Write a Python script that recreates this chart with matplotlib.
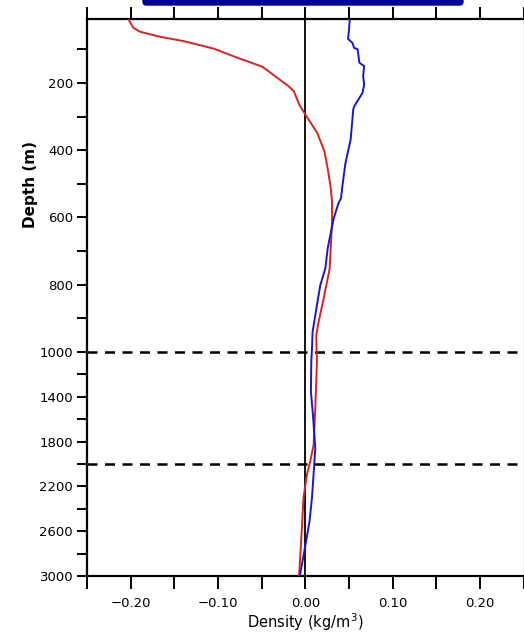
import numpy as np
import matplotlib
matplotlib.use('Agg')
import matplotlib.pyplot as plt
from matplotlib.patches import FancyBboxPatch

# red profile (depth in m, density anomaly in kg/m3)
red_depth = [10, 36, 48, 63, 76, 98, 125, 152, 185, 210, 225, 264, 294, 349, 404, 459,
             508, 554, 614, 752, 842, 911, 951, 1091, 1504, 1828, 1976, 2094, 2301, 2566, 2978, 3000]
red_dens = [-0.2026, -0.197, -0.189, -0.166, -0.139, -0.105, -0.078, -0.049, -0.032, -0.019,
            -0.013, -0.007, 0.0, 0.0138, 0.022, 0.026, 0.029, 0.0307, 0.0307, 0.028, 0.021,
            0.0153, 0.0126, 0.0134, 0.0115, 0.0096, 0.0057, 0.002, -0.002, -0.0038, -0.0069, -0.0075]

# blue profile
blue_depth = [10, 46, 69, 81, 96, 100, 140, 150, 180, 205, 230, 270, 279, 369, 439, 508,
              543, 558, 603, 653, 692, 752, 802, 861, 941, 991, 1091, 1357, 1563, 1858,
              2005, 2301, 2507, 2684, 2861, 3000]
blue_dens = [0.051, 0.050, 0.049, 0.054, 0.056, 0.060, 0.062, 0.0675, 0.0663, 0.0675, 0.0655,
             0.056, 0.055, 0.052, 0.046, 0.0425, 0.041, 0.038, 0.0326, 0.0287, 0.0257, 0.023,
             0.0172, 0.0134, 0.0084, 0.0077, 0.0069, 0.0065, 0.0088, 0.0115, 0.0103, 0.0077,
             0.005, 0.0011, -0.003, -0.0062]

major_y = [200, 400, 600, 800, 1000, 1400, 1800, 2200, 2600, 3000]
minor_y = [100, 300, 500, 700, 900, 1200, 1600, 2000, 2400, 2800]


def fwd(d):
    d = np.asarray(d, dtype=float)
    return np.where(d <= 1000, d, 1000 + (d - 1000) / 3.0)


def inv(t):
    t = np.asarray(t, dtype=float)
    return np.where(t <= 1000, t, 1000 + (t - 1000) * 3.0)


plt.rcParams['font.family'] = ['DejaVu Sans']
fig = plt.figure(figsize=(5.24, 6.37), dpi=100)
ax = fig.add_axes([87/524, 61/637, 436.5/524, 557/637])
ax.set_yscale('function', functions=(fwd, inv))

ax.plot(red_dens, red_depth, color='#d42424', lw=1.4, zorder=3)
ax.plot(blue_dens, blue_depth, color='#1818c8', lw=1.4, zorder=3)
ax.axvline(0, color='black', lw=1.3, zorder=2)
for d in [1000, 2000]:
    ax.axhline(d, color='black', lw=1.8, dashes=(4, 3), zorder=2)

ax.set_xlim(-0.25, 0.25)
ax.set_ylim(3000, 10)

ax.set_yticks(major_y)
ax.set_yticklabels([str(v) for v in major_y])
ax.set_yticks(minor_y, minor=True)
ax.set_xticks([-0.2, -0.1, 0.0, 0.1, 0.2])
ax.set_xticklabels(['\u22120.20', '\u22120.10', '0.00', '0.10', '0.20'])
ax.set_xticks([-0.25, -0.15, -0.05, 0.05, 0.15, 0.25], minor=True)

ax.tick_params(axis='x', which='both', direction='out', length=9, width=1.4,
               top=True, bottom=True, labelsize=9.5, pad=6)
ax.tick_params(axis='y', which='both', direction='out', length=7, width=1.4,
               right=False, labelsize=9.5, pad=3)
for s in ['left', 'top', 'bottom']:
    ax.spines[s].set_linewidth(1.6)
ax.spines['right'].set_linewidth(1.0)
ax.spines['right'].set_color('#999999')

ax.set_xlabel('Density (kg/m$^3$)', fontsize=10.5, labelpad=1)
fig.text(30/524, 1 - 184/637, 'Depth (m)', rotation=90, ha='center', va='center',
         fontsize=11, fontweight='bold')

box = FancyBboxPatch((143/524, 1 - 5/637), 320/524, 0.05,
                     boxstyle='round,pad=0,rounding_size=0.006',
                     transform=fig.transFigure, facecolor='#000096',
                     edgecolor='#000096', clip_on=False)
fig.patches.append(box)

fig.savefig('out.png', dpi=100)
